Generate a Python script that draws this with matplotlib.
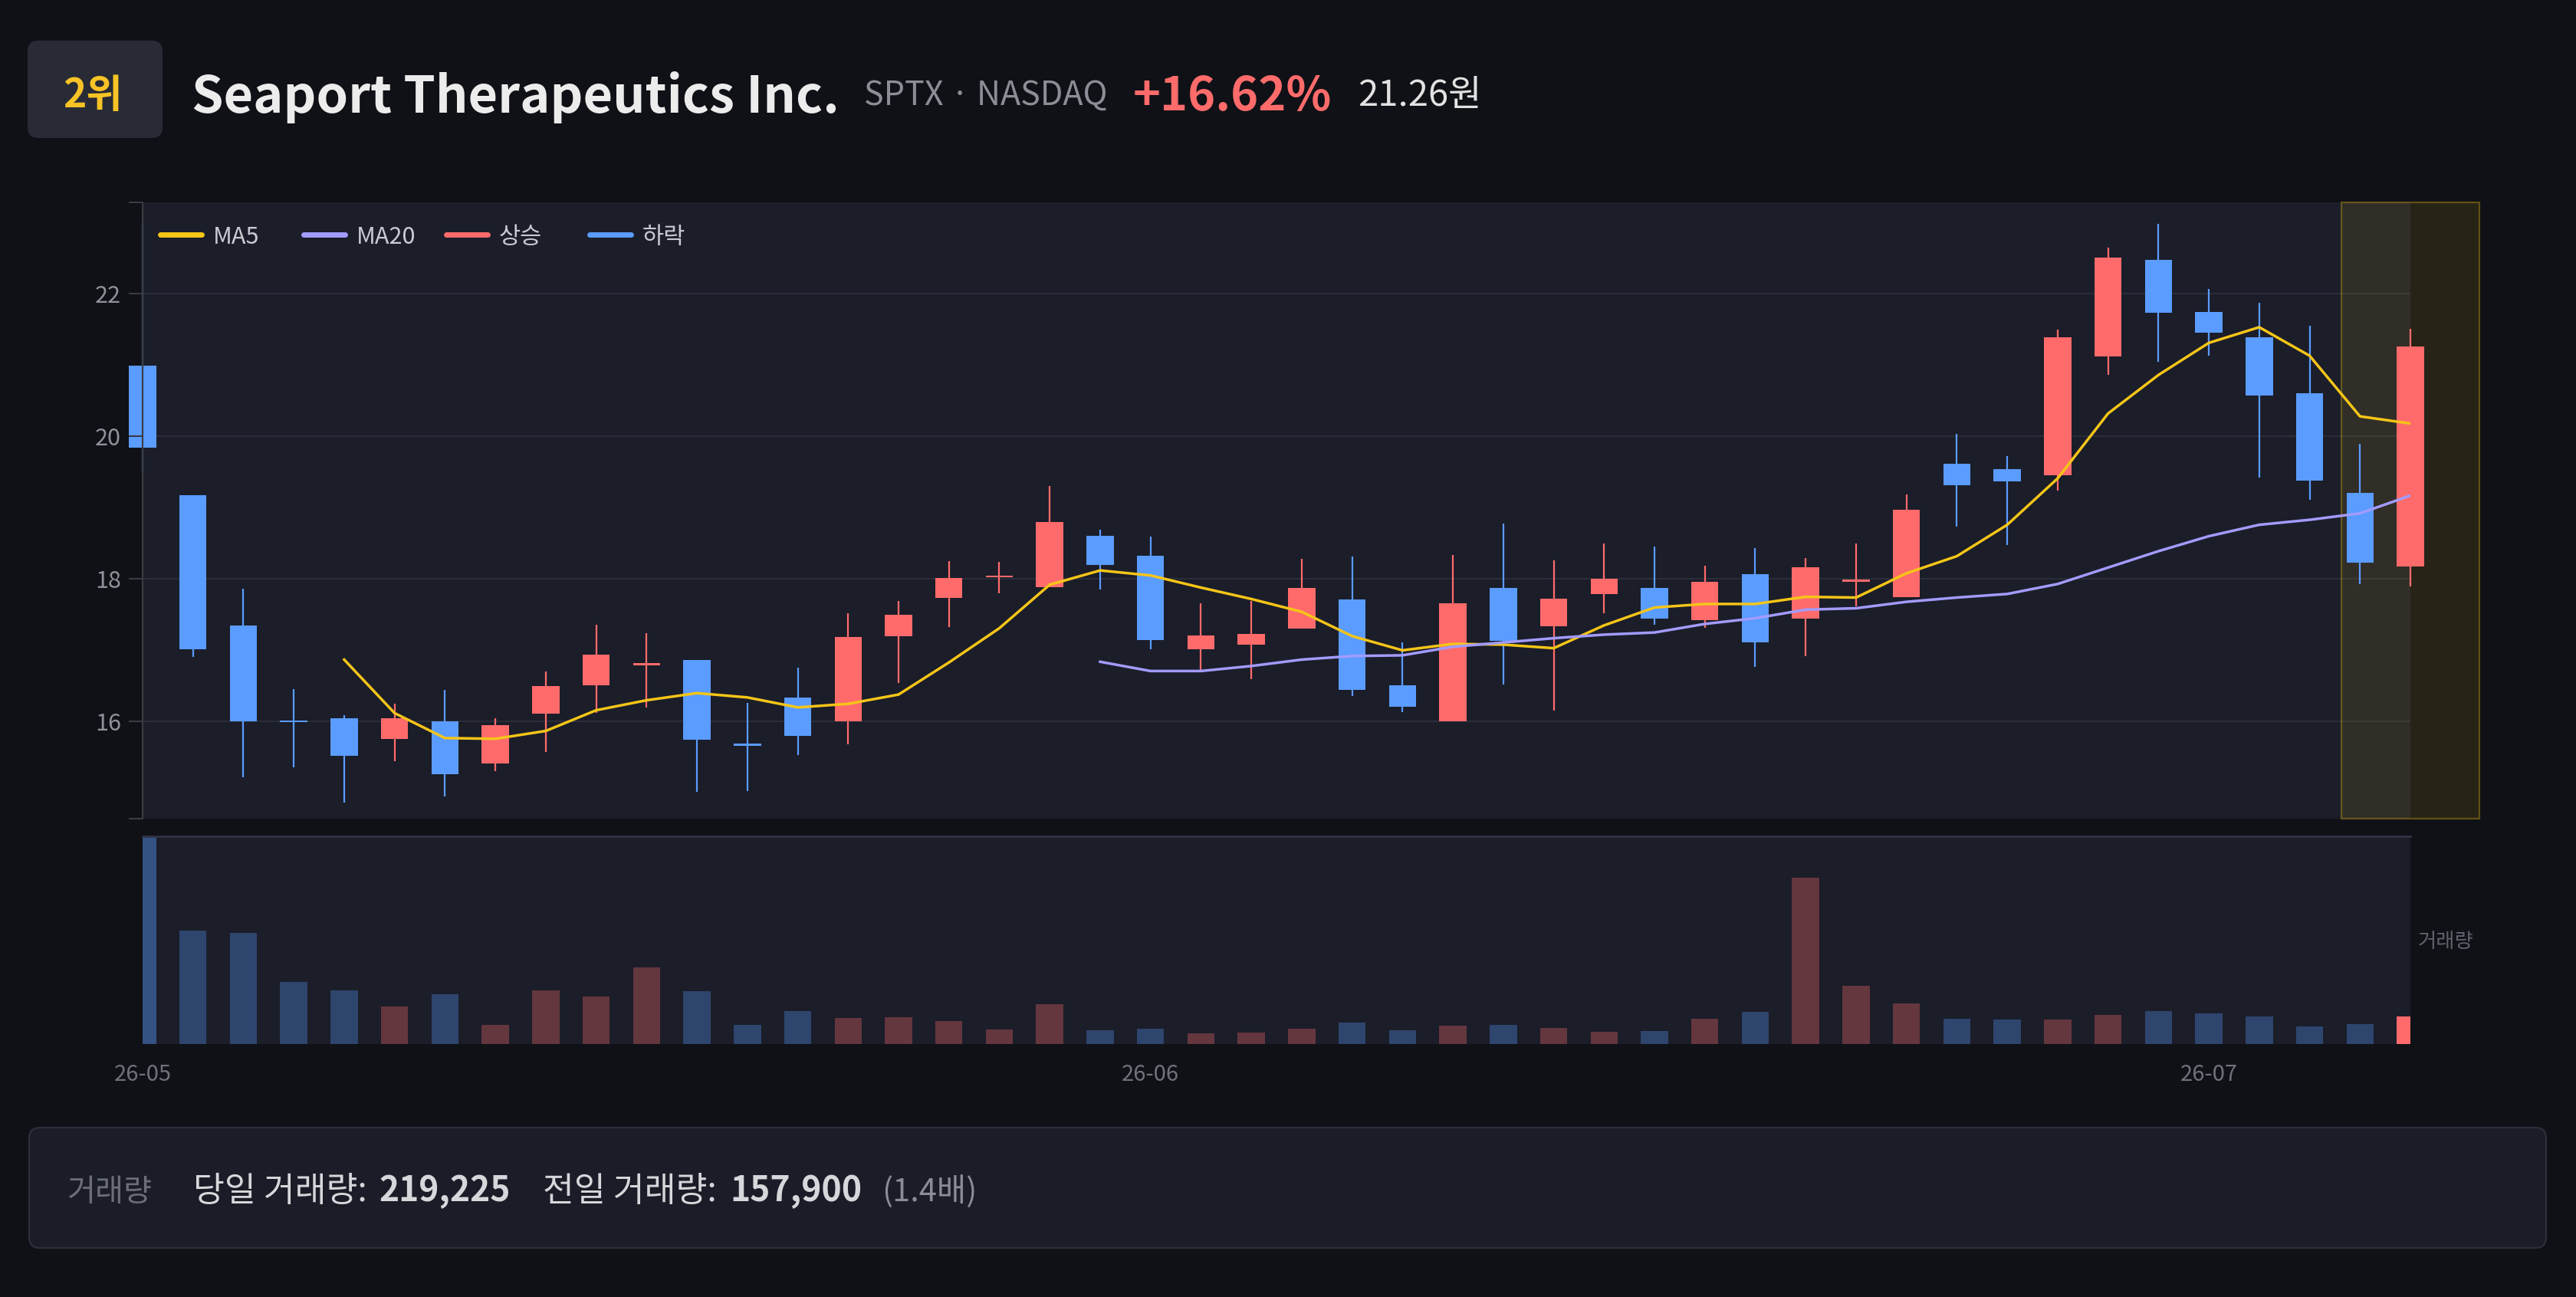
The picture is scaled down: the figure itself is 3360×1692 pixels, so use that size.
import numpy as np
import matplotlib
matplotlib.use("Agg")
import matplotlib.pyplot as plt
import matplotlib.transforms as mtransforms
from matplotlib.patches import FancyBboxPatch, Rectangle
from matplotlib.lines import Line2D

plt.rcParams['font.family'] = ['Noto Sans CJK KR', 'DejaVu Sans']

# ============================================================
# DATA
# ============================================================

date_labels = ['26-05', '26-06', '26-07']
date_pos = [0, 20, 41]

opens = [20.99, 19.17, 17.35, 16.01, 16.05, 15.76, 16.00, 15.41, 16.11, 16.51,
         16.79, 16.86, 15.68, 16.34, 16.00, 17.20, 17.74, 18.02, 17.89, 18.61,
         18.33, 17.01, 17.08, 17.31, 17.71, 16.51, 16.00, 17.87, 17.34, 17.79,
         17.87, 17.42, 18.07, 17.45, 17.96, 17.75, 19.62, 19.54, 19.45, 21.12,
         22.47, 21.74, 21.39, 20.60, 19.21, 18.18]
highs = [22.99, 19.17, 17.86, 16.46, 16.09, 16.25, 16.45, 16.05, 16.70, 17.36,
         17.24, 16.86, 16.26, 16.76, 17.52, 17.69, 18.25, 18.24, 19.30, 18.69,
         18.60, 17.66, 17.69, 18.28, 18.31, 17.11, 18.34, 18.78, 18.26, 18.50,
         18.45, 18.19, 18.43, 18.29, 18.50, 19.19, 20.04, 19.72, 21.50, 22.65,
         22.98, 22.07, 21.87, 21.55, 19.90, 21.51]
lows = [19.50, 16.91, 15.22, 15.36, 14.87, 15.45, 14.95, 15.31, 15.58, 16.12,
        16.20, 15.02, 15.03, 15.53, 15.68, 16.54, 17.33, 17.80, 17.89, 17.85,
        17.02, 16.71, 16.60, 17.30, 16.36, 16.13, 16.00, 16.52, 16.16, 17.52,
        17.36, 17.32, 16.77, 16.92, 17.62, 17.75, 18.73, 18.48, 19.24, 20.86,
        21.04, 21.13, 19.42, 19.11, 17.93, 17.90]
closes = [19.84, 17.01, 16.01, 15.99, 15.52, 16.05, 15.26, 15.95, 16.50, 16.94,
          16.81, 15.75, 15.66, 15.80, 17.19, 17.50, 18.01, 18.04, 18.80, 18.20,
          17.14, 17.21, 17.23, 17.88, 16.45, 16.21, 17.66, 17.13, 17.72, 18.00,
          17.45, 17.96, 17.11, 18.17, 17.98, 18.97, 19.32, 19.37, 21.39, 22.51,
          21.73, 21.45, 20.57, 19.38, 18.23, 21.26]

volumes = [1980000, 904400, 886000, 495500, 425500, 300900, 394800, 153500, 428000, 376400,
           607900, 419400, 155300, 264000, 206900, 210600, 179900, 116700, 315000, 110500,
           121000, 87800, 90300, 121000, 170100, 108700, 147400, 153500, 127100, 98200,
           102500, 198300, 257900, 1320100, 464800, 321100, 200800, 194600, 194600, 231500,
           262200, 243800, 219200, 139400, 157900, 219225]

ma5_start = 4
ma5 = [16.87, 16.12, 15.77, 15.76, 15.87, 16.16, 16.30, 16.40, 16.34, 16.20,
       16.25, 16.38, 16.83, 17.31, 17.92, 18.12, 18.05, 17.88, 17.72, 17.54,
       17.20, 17.00, 17.09, 17.08, 17.03, 17.35, 17.60, 17.65, 17.65, 17.75,
       17.74, 18.08, 18.32, 18.76, 19.41, 20.32, 20.86, 21.31, 21.53, 21.13,
       20.28, 20.18]
ma20_start = 19
ma20 = [16.84, 16.71, 16.71, 16.78, 16.87, 16.92, 16.93, 17.05, 17.11, 17.17,
        17.22, 17.25, 17.37, 17.45, 17.57, 17.59, 17.68, 17.74, 17.79, 17.93,
        18.16, 18.39, 18.60, 18.76, 18.83, 18.92, 19.17]

rank = "2위"
name = "Seaport Therapeutics Inc."
ticker = "SPTX · NASDAQ"

# ============================================================
# STYLE
# ============================================================

W, H = 3360, 1692
BG = "#101116"
PANEL = "#1b1d29"
GRID = "#2a2d39"
UP = "#ff6b6b"
DOWN = "#5a9cff"
MA5_C = "#f5c518"
MA20_C = "#a29bfe"

fig = plt.figure(figsize=(W / 100, H / 100), dpi=100, facecolor=BG)
PX = mtransforms.Affine2D().scale(1, -1).translate(0, H)


def add_ax(l, t, r, b):
    return fig.add_axes([l / W, 1 - b / H, (r - l) / W, (b - t) / H])


def ftext(x, y, s, **kw):
    return fig.text(x / W, 1 - y / H, s, **kw)


n = len(closes)
x = np.arange(n)
up = [c >= o for o, c in zip(opens, closes)]
cols = [UP if u else DOWN for u in up]

# ============================================================
# HEADER
# ============================================================

fig.add_artist(FancyBboxPatch((36, 53), 176, 127, boxstyle="round,pad=0,rounding_size=14",
                              transform=PX, fc="#282b36", ec="none"))
ftext(121, 140, rank, color="#f7c325", fontsize=37, fontweight="bold", ha="center", va="baseline")
ftext(250, 147, name, color="#ececec", fontsize=48, fontweight="bold", ha="left", va="baseline")
ftext(1127, 137, ticker, color="#8b8e96", fontsize=31, ha="left", va="baseline")
pct = (closes[-1] / closes[-2] - 1) * 100
ftext(1478, 144, f"+{pct:.2f}%", color=UP, fontsize=44, fontweight="bold", ha="left", va="baseline")
ftext(1771, 138, f"{closes[-1]:.2f}원", color="#e2e2e2", fontsize=34, ha="left", va="baseline")

# ============================================================
# PRICE PANEL
# ============================================================

ax = add_ax(186, 264, 3144, 1068)
ax.set_facecolor(PANEL)
ax.set_xlim(0, n - 1)
y_lo, y_hi = 14.64, 23.28
ax.set_ylim(y_lo, y_hi)

for g in [16, 18, 20, 22]:
    ax.axhline(g, color=GRID, lw=1.5, zorder=0.5)

ax.vlines(x, lows, highs, colors=cols, lw=1.6, zorder=0.9, clip_on=False)
bottoms = [min(o, c) for o, c in zip(opens, closes)]
heights = [max(abs(c - o), 0.03) for o, c in zip(opens, closes)]
ax.bar(x, heights, bottom=bottoms, width=0.54, color=cols, zorder=1, clip_on=False)

ax.plot(x[ma5_start:], ma5, color=MA5_C, lw=2.5, zorder=3, solid_joinstyle="round")
ax.plot(x[ma20_start:], ma20, color=MA20_C, lw=2.5, zorder=3, solid_joinstyle="round")

# highlight on latest candle
hl = Rectangle((n - 1 - 1.37, 0), 2.74, 1, transform=ax.get_xaxis_transform(),
               fc=(0.96, 0.77, 0.1, 0.10), ec=(0.96, 0.77, 0.1, 0.32), lw=1.6,
               clip_on=False, zorder=0.7)
ax.add_patch(hl)

for s in ["top", "right", "bottom"]:
    ax.spines[s].set_visible(False)
ax.spines["left"].set_color("#3a3c44")
ax.spines["left"].set_linewidth(1.5)
ax.set_xticks([])
ax.set_yticks([16, 18, 20, 22])
ax.set_yticks([y_lo, y_hi], minor=True)
ax.tick_params(axis="y", which="both", length=13, width=1.5, color="#3a3c44", pad=7,
               labelsize=22, labelcolor="#8e919a")

# legend
legend_items = [("MA5", MA5_C), ("MA20", MA20_C), ("상승", UP), ("하락", DOWN)]
for i, (lab, c) in enumerate(legend_items):
    x0 = 206 + 186.5 * i
    fig.add_artist(Line2D([x0 + 3, x0 + 57], [306, 306], transform=PX, color=c, lw=5,
                          solid_capstyle="round"))
    ftext(x0 + 72, 318, lab, color="#c9cbd1", fontsize=22, ha="left", va="baseline")

# ============================================================
# VOLUME PANEL
# ============================================================

vax = add_ax(186, 1091, 3144, 1362)
vax.set_facecolor(PANEL)
vcols = []
for i, u in enumerate(up):
    base = (1.0, 0.42, 0.42) if u else (0.35, 0.61, 1.0)
    a = 0.32
    if i == 0:
        a = 0.42
    if i == n - 1:
        a = 1.0
    vcols.append(base + (a,))
vax.bar(x, volumes, width=0.54, color=vcols)
vax.set_xlim(0, n - 1)
vax.set_ylim(0, 1652000)
for s in ["right", "bottom", "left"]:
    vax.spines[s].set_visible(False)
vax.spines["top"].set_color("#2f3346")
vax.spines["top"].set_linewidth(2)
vax.set_yticks([])
vax.set_xticks(date_pos)
vax.set_xticklabels(date_labels)
vax.tick_params(axis="x", length=0, pad=18, labelsize=21, labelcolor="#6f727c")
ftext(3154, 1228, "거래량", color="#5f636e", fontsize=19, ha="left", va="center")

# ============================================================
# BOTTOM INFO BOX
# ============================================================

fig.add_artist(FancyBboxPatch((38, 1471), 3283, 157, boxstyle="round,pad=0,rounding_size=14",
                              transform=PX, fc="#1a1c27", ec="#2c2f3b", lw=1.6))
yb = 1567
ftext(88, yb, "거래량", color="#6b6e78", fontsize=29, ha="left", va="baseline")
ftext(252, yb, "당일 거래량:", color="#d6d7da", fontsize=32, ha="left", va="baseline")
ftext(494, yb, f"{volumes[-1]:,}", color="#d6d7da", fontsize=32, fontweight="bold", ha="left", va="baseline")
ftext(708, yb, "전일 거래량:", color="#d6d7da", fontsize=32, ha="left", va="baseline")
ftext(952, yb, f"{volumes[-2]:,}", color="#d6d7da", fontsize=32, fontweight="bold", ha="left", va="baseline")
ftext(1150, yb, f"({volumes[-1] / volumes[-2]:.1f}배)", color="#8a8d95", fontsize=30, ha="left", va="baseline")

fig.savefig("out.png", dpi=100, facecolor=BG)
